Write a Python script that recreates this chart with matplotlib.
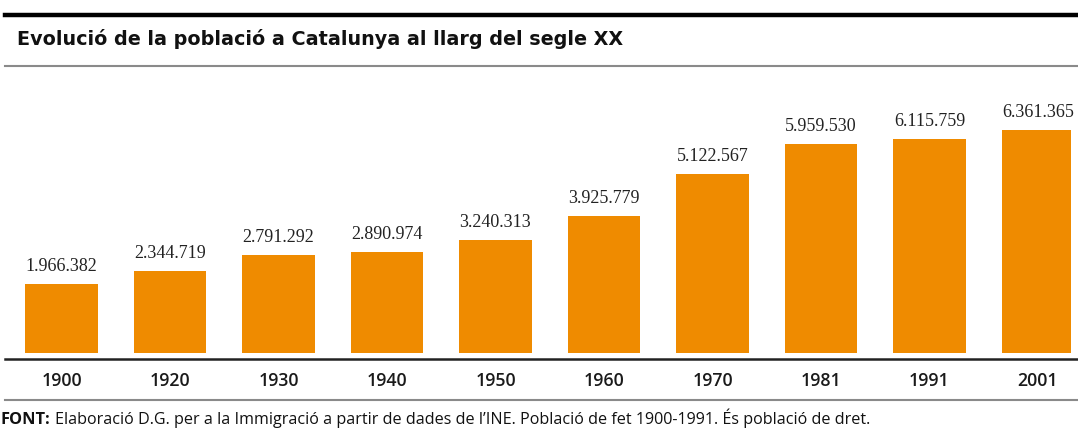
import matplotlib
matplotlib.use('Agg')

import matplotlib.pyplot as plt
from matplotlib.lines import Line2D
import numpy as np

# Data
years = ["1900", "1920", "1930", "1940", "1950", "1960", "1970", "1981", "1991", "2001"]
population = [1966382, 2344719, 2791292, 2890974, 3240313, 3925779, 5122567, 5959530, 6115759, 6361365]
value_labels = ["1.966.382", "2.344.719", "2.791.292", "2.890.974", "3.240.313",
                "3.925.779", "5.122.567", "5.959.530", "6.115.759", "6.361.365"]

W, H = 1078, 430
fig = plt.figure(figsize=(W / 100, H / 100), dpi=100)

# helper: pixel -> figure fraction
def fx(px):
    return px / W

def fy(py):
    return 1 - py / H

# plot area: x=0 at 61.5px, 108.5px per bar; bottom at 353px, top at 73px
x0, step = 61.5, 108.5
left_px = x0 - 0.5 * step
right_px = x0 + 9.3 * step
bottom_px, top_px = 353, 73
ax = fig.add_axes([fx(left_px), fy(bottom_px), fx(right_px - left_px), (bottom_px - top_px) / H])

x = np.arange(len(years))
ax.bar(x, population, width=0.672, color='#ef8b00')
ax.set_xlim(-0.5, 9.3)
ax.set_ylim(0, 8.0e6)
ax.axis('off')

for xi, v, lab in zip(x, population, value_labels):
    ax.annotate(lab, (xi, v), xytext=(0, 9.4), textcoords='offset points',
                ha='center', va='baseline', fontsize=13, family='Liberation Serif', color='#222222')

# year labels under baseline
for xi, yr in zip(x, years):
    px = x0 + xi * step
    fig.text(fx(px), fy(385.5), yr, ha='center', va='baseline', fontsize=12.8,
             family='Open Sans', fontweight='semibold', color='#1a1a1a')

# decorative rules
fig.add_artist(Line2D([fx(5), 1], [fy(14.5), fy(14.5)], color='black', lw=3.2))
fig.add_artist(Line2D([fx(5), 1], [fy(66), fy(66)], color='#8a8a8a', lw=1.5))
fig.add_artist(Line2D([fx(5), 1], [fy(358.5), fy(358.5)], color='#222222', lw=1.8))
fig.add_artist(Line2D([fx(5), 1], [fy(399.5), fy(399.5)], color='#8a8a8a', lw=1.5))

# title
fig.text(fx(17), fy(45), "Evolució de la població a Catalunya al llarg del segle XX",
         ha='left', va='baseline', fontsize=13.8, fontweight='bold',
         family='DejaVu Sans', color='#111111')

# footnote
fig.text(fx(0), fy(424), "FONT:", ha='left', va='baseline', fontsize=11.8,
         fontweight='bold', family='Open Sans', color='#111111')
fig.text(fx(55), fy(424), "Elaboració D.G. per a la Immigració a partir de dades de l’INE. Població de fet 1900-1991. És població de dret.",
         ha='left', va='baseline', fontsize=11.6, family='Open Sans', color='#111111')

plt.savefig("out.png", dpi=100)
plt.close()
